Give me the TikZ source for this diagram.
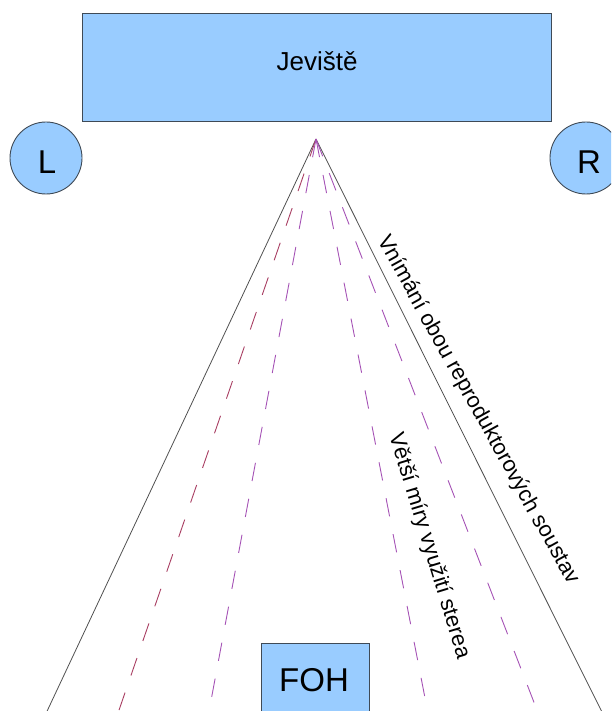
\documentclass[tikz,border=0pt]{standalone}
\usepackage{fontspec}
\setmainfont{Liberation Sans}
\definecolor{boxfill}{HTML}{99CCFF}
\definecolor{boxline}{HTML}{3F4A56}
\definecolor{rayline}{HTML}{505050}
\definecolor{rayred}{HTML}{A83E62}
\definecolor{raypurple}{HTML}{A552B5}
\begin{document}
\begin{tikzpicture}[x=1pt,y=-1pt,
  box/.style={draw=boxline, fill=boxfill, line width=0.9pt, inner sep=0pt},
  solidray/.style={draw=rayline, line width=0.8pt},
  dashray/.style={line width=0.9pt, dash pattern=on 18.5pt off 18.1pt},
  bigtxt/.style={anchor=base, inner sep=0pt, font=\fontsize{33}{38}\selectfont},
  lbl/.style={inner sep=0pt, font=\fontsize{22}{26}\selectfont}]
\useasboundingbox (0,0) rectangle (611,711);
\clip (0,0) rectangle (611,711);
% rays
\coordinate (apex) at (316,139);
\coordinate (endLS) at (24.1,760);
\coordinate (endLO) at (101.8,760);
\coordinate (endLI) at (199.9,760);
\coordinate (endRI) at (437.1,760);
\coordinate (endRO) at (556.3,760);
\coordinate (endRS) at (625.9,760);
\draw[solidray] (apex) -- (endLS);
\draw[solidray] (apex) -- (endRS);
\draw[dashray, draw=rayred] (apex) -- (endLO);
\draw[dashray, draw=raypurple] (apex) -- (endLI);
\draw[dashray, draw=raypurple] (apex) -- (endRI);
\draw[dashray, draw=raypurple] (apex) -- (endRO);
% stage
\node[box, minimum width=469pt, minimum height=108pt] (stage) at (316.5,67) {};
\node[anchor=base, inner sep=0pt, font=\fontsize{26}{30}\selectfont] (stagetext) at (317,70.7) {Jeviště};
% speakers
\node[box, circle, minimum size=72pt] (L) at (46,158) {};
\node[bigtxt] (Ltext) at (47,174) {L};
\node[box, circle, minimum size=72pt] (R) at (586,158) {};
\node[bigtxt] (Rtext) at (589,174) {R};
% FOH
\node[box, minimum width=108pt, minimum height=116pt] (foh) at (315,701) {};
\node[bigtxt] (fohtext) at (314,691.7) {FOH};
% labels
\node[lbl, rotate=-61] (t1) at (478,410) {Vnímání obou reproduktorových soustav};
\node[lbl, rotate=-73] (t2) at (429,546) {Větší míry využití sterea};
\end{tikzpicture}
\end{document}
